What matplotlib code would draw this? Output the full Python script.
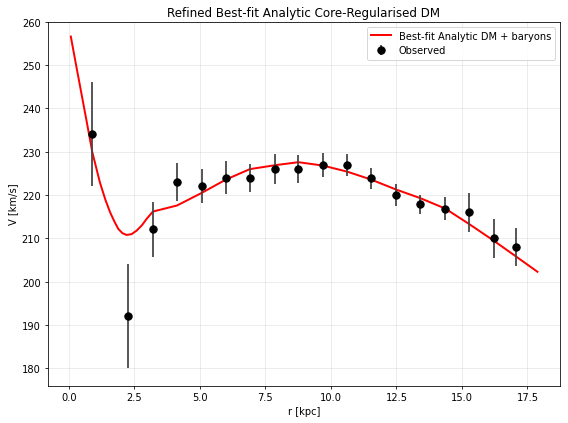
import matplotlib
matplotlib.use("Agg")
import matplotlib.pyplot as plt
import numpy as np

r_obs = [0.89, 2.26, 3.21, 4.13, 5.08, 6.00, 6.91, 7.87, 8.76, 9.71,
         10.63, 11.53, 12.48, 13.41, 14.36, 15.28, 16.23, 17.07]
v_obs = [234.0, 192.0, 212.1, 223.0, 222.1, 224.0, 224.0, 226.0, 226.0, 226.9,
         226.9, 223.9, 220.0, 217.9, 216.9, 216.0, 210.0, 208.0]
v_err = [12.0, 12.0, 6.3, 4.4, 3.9, 3.8, 3.2, 3.5, 3.2, 2.8,
         2.6, 2.4, 2.5, 2.2, 2.7, 4.5, 4.5, 4.3]

r_model = [0.08, 0.25, 0.43, 0.69, 0.90, 1.19, 1.40, 1.58, 1.75, 1.89, 2.05, 2.21,
           2.40, 2.59, 2.80, 2.97, 3.21, 4.13, 5.07, 6.00, 6.91, 7.87, 8.76,
           9.71, 10.63, 11.53, 12.48, 13.41, 14.36, 15.28, 16.23, 17.07, 17.88]
v_model = [256.6, 251.0, 245.2, 236.8, 229.9, 222.9, 218.9, 216.0, 213.8, 212.2, 211.2, 210.8,
           211.0, 211.8, 213.1, 214.5, 216.2, 217.6, 220.5, 223.6, 226.0, 226.9, 227.6,
           226.8, 225.4, 223.6, 221.3, 219.3, 216.9, 213.3, 209.4, 205.8, 202.3]

fig = plt.figure(figsize=(8, 5.97), dpi=71)
ax = fig.add_axes([47.5 / 568, (424 - 386.7) / 424, (560 - 47.5) / 568, (386.7 - 22.7) / 424])
ax.plot(r_model, v_model, color='red', lw=2, label='Best-fit Analytic DM + baryons')
ax.errorbar(r_obs, v_obs, yerr=v_err, fmt='o', color='black', ecolor='#444444',
            elinewidth=1.8, markersize=7.5, capsize=0, label='Observed')
ax.set_xlim(-0.81, 18.74)
ax.set_ylim(176, 260)
ax.set_xlabel('r [kpc]')
ax.set_ylabel('V [km/s]')
ax.set_title('Refined Best-fit Analytic Core-Regularised DM')
ax.grid(True, alpha=0.3)
ax.legend(loc='upper right')
fig.savefig('out.png', dpi=71)
